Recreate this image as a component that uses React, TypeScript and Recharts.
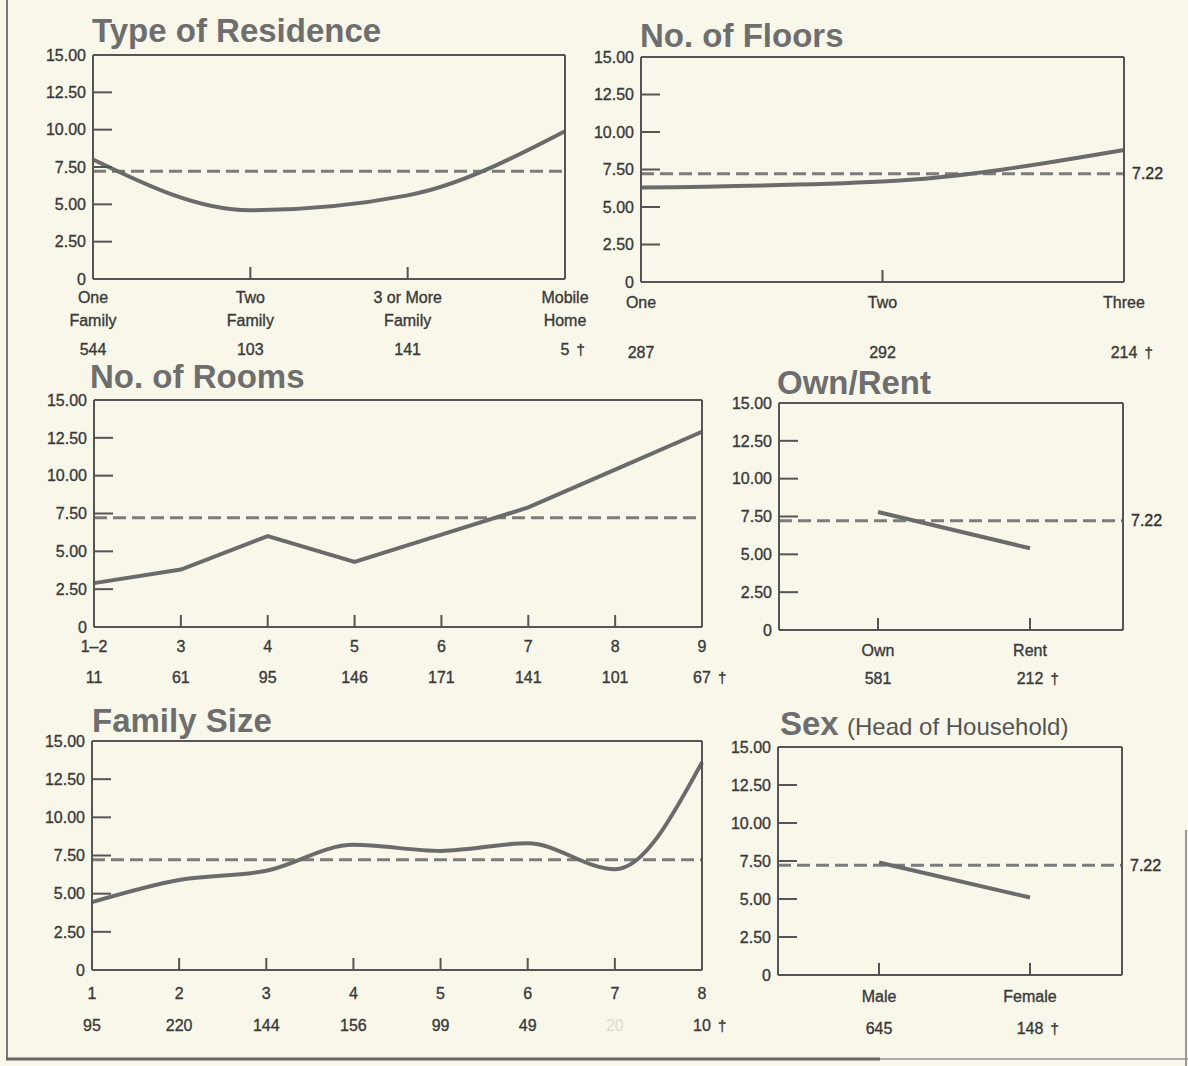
import React from "react";
import { LineChart, Line, XAxis, YAxis, ReferenceLine } from "recharts";

// ---------- data ----------
const overallMean = 7.22;
const yTicks = [0, 2.5, 5, 7.5, 10, 12.5, 15];

const residenceCategories = ["One\nFamily", "Two\nFamily", "3 or More\nFamily", "Mobile\nHome"];
const residenceValues = [8.0, 4.6, 5.6, 9.9];
const residenceCounts = [544, 103, 141, 5];

const floorsCategories = ["One", "Two", "Three"];
const floorsValues = [6.3, 6.7, 8.8];
const floorsCounts = [287, 292, 214];

const roomsCategories = ["1–2", "3", "4", "5", "6", "7", "8", "9"];
const roomsValues = [2.9, 3.8, 6.0, 4.3, 6.1, 7.9, 10.4, 12.9];
const roomsCounts = [11, 61, 95, 146, 171, 141, 101, 67];

const tenureCategories = ["Own", "Rent"];
const tenureValues = [7.8, 5.4];
const tenureCounts = [581, 212];

const familyCategories = ["1", "2", "3", "4", "5", "6", "7", "8"];
const familyValues = [4.45, 5.9, 6.5, 8.2, 7.8, 8.3, 6.6, 13.6];
const familyCounts = [95, 220, 144, 156, 99, 49, 20, 10];

const sexCategories = ["Male", "Female"];
const sexValues = [7.4, 5.1];
const sexCounts = [645, 148];

// ---------- styles ----------
const BG = "#f8f7e9";
const INK = "#3a3a3a";
const FRAME = "#555";
const LINE = "#6b6b6b";
const DASH = "#7c7c7c";
const TITLE = "#6e6e6e";
const FONT = "'Liberation Sans', Arial, sans-serif";

const YW = 70;
const MT = 16;
const XH = 90;
const RW = 2;
const MR = 60;

type Box = { l: number; t: number; r: number; b: number };

type PanelProps = {
  box: Box;
  categories: string[];
  values: number[];
  counts: number[];
  curve: "monotone" | "linear";
  padding?: { left: number; right: number };
  labelDy: number;
  countDy: number;
  showMeanLabel?: boolean;
  faintCount?: number;
};

const textInk = { fill: INK, stroke: INK, strokeWidth: 0.35, fontSize: 16, fontFamily: FONT };

function Panel(p: PanelProps) {
  const { box } = p;
  const w = YW + (box.r - box.l) + RW + MR;
  const h = MT + (box.b - box.t) + XH;
  const data = p.categories.map((c, i) => ({ cat: c, value: p.values[i] }));

  const renderTick = (props: any) => {
    const { x, y, payload } = props;
    const i = typeof props.index === "number" ? props.index : p.categories.indexOf(payload.value);
    const lines = String(payload.value).split("\n");
    const isLast = i === p.categories.length - 1;
    const cnt = String(p.counts[i]);
    const faint = p.faintCount === i;
    return (
      <g>
        <text x={x} y={y + p.labelDy} textAnchor="middle" {...textInk}>
          {lines.map((ln, k) => (
            <tspan key={k} x={x} dy={k === 0 ? 0 : 23}>
              {ln}
            </tspan>
          ))}
        </text>
        <text
          x={x}
          y={y + p.countDy}
          textAnchor="middle"
          {...textInk}
          fill={faint ? "#dedcc8" : INK}
          stroke={faint ? "none" : INK}
        >
          {cnt}
        </text>
        {isLast && (
          <text x={x + cnt.length * 4.5 + 7} y={y + p.countDy} textAnchor="start" {...textInk} fontSize={15}>
            †
          </text>
        )}
      </g>
    );
  };

  return (
    <div style={{ position: "absolute", left: box.l - YW, top: box.t - MT, width: w, height: h }}>
      <LineChart width={w} height={h} data={data} margin={{ top: MT, right: MR, bottom: 0, left: 0 }}>
        <XAxis
          dataKey="cat"
          height={XH}
          interval={0}
          padding={p.padding ?? { left: 0, right: 0 }}
          axisLine={{ stroke: FRAME, strokeWidth: 2 }}
          tickLine={{ stroke: FRAME, strokeWidth: 2 }}
          tickSize={-12}
          tickMargin={12}
          tick={renderTick}
        />
        <YAxis
          yAxisId="l"
          width={YW}
          domain={[0, 15]}
          ticks={yTicks}
          interval={0}
          axisLine={{ stroke: FRAME, strokeWidth: 2 }}
          tickLine={{ stroke: FRAME, strokeWidth: 2 }}
          tickSize={-19}
          tickMargin={26}
          tick={textInk}
          tickFormatter={(v: number) => (v === 0 ? "0" : v.toFixed(2))}
        />
        <YAxis
          yAxisId="r"
          orientation="right"
          width={RW}
          domain={[0, 15]}
          ticks={yTicks}
          interval={0}
          axisLine={{ stroke: FRAME, strokeWidth: 2 }}
          tickLine={{ stroke: FRAME, strokeWidth: 2 }}
          tickSize={-19}
          tick={false}
        />
        <ReferenceLine yAxisId="l" y={15} stroke={FRAME} strokeWidth={2} />
        <ReferenceLine
          yAxisId="l"
          y={overallMean}
          stroke={DASH}
          strokeWidth={3}
          strokeDasharray="13 6"
          label={
            p.showMeanLabel
              ? {
                  value: overallMean.toFixed(2),
                  position: "right",
                  offset: 8,
                  fill: "#333",
                  stroke: "#333",
                  strokeWidth: 0.4,
                  fontSize: 16,
                  fontFamily: FONT,
                }
              : undefined
          }
        />
        <Line
          yAxisId="l"
          type={p.curve}
          dataKey="value"
          stroke={LINE}
          strokeWidth={4}
          dot={false}
          isAnimationActive={false}
        />
      </LineChart>
    </div>
  );
}

const titleStyle = { fill: TITLE, fontFamily: FONT, fontWeight: 700, fontSize: 33 } as const;

export default function App() {
  return (
    <div style={{ position: "absolute", left: 0, top: 0, width: 1188, height: 1066, background: BG, overflow: "hidden" }}>
      <svg width={1188} height={1066} style={{ position: "absolute", left: 0, top: 0 }}>
        <line x1={7} y1={0} x2={7} y2={1060} stroke="#777" strokeWidth={2} />
        <line x1={6} y1={1059} x2={880} y2={1059} stroke="#666" strokeWidth={3} />
        <line x1={880} y1={1059} x2={1188} y2={1059} stroke="#aaa" strokeWidth={2} />
        <line x1={1186} y1={830} x2={1186} y2={1066} stroke="#999" strokeWidth={2} />
        <text x={92} y={42} style={titleStyle}>Type of Residence</text>
        <text x={640} y={47} style={titleStyle}>No. of Floors</text>
        <text x={90} y={388} style={titleStyle}>No. of Rooms</text>
        <text x={777} y={394} style={titleStyle}>Own/Rent</text>
        <text x={92} y={732} style={titleStyle}>Family Size</text>
        <text x={780} y={735} fontFamily={FONT} fill={TITLE}>
          <tspan fontWeight={700} fontSize={33}>Sex</tspan>
          <tspan x={847} fontSize={24} fill="#555">(Head of Household)</tspan>
        </text>
      </svg>

      <Panel
        box={{ l: 93, t: 55, r: 565, b: 279 }}
        categories={residenceCategories}
        values={residenceValues}
        counts={residenceCounts}
        curve="monotone"
        labelDy={24}
        countDy={76}
      />
      <Panel
        box={{ l: 641, t: 57, r: 1124, b: 282 }}
        categories={floorsCategories}
        values={floorsValues}
        counts={floorsCounts}
        curve="monotone"
        labelDy={26}
        countDy={76}
        showMeanLabel
      />
      <Panel
        box={{ l: 94, t: 400, r: 702, b: 627 }}
        categories={roomsCategories}
        values={roomsValues}
        counts={roomsCounts}
        curve="linear"
        labelDy={25}
        countDy={56}
      />
      <Panel
        box={{ l: 779, t: 403, r: 1123, b: 630 }}
        categories={tenureCategories}
        values={tenureValues}
        counts={tenureCounts}
        curve="linear"
        padding={{ left: 99, right: 93 }}
        labelDy={26}
        countDy={54}
        showMeanLabel
      />
      <Panel
        box={{ l: 92, t: 741, r: 702, b: 970 }}
        categories={familyCategories}
        values={familyValues}
        counts={familyCounts}
        curve="monotone"
        labelDy={29}
        countDy={61}
        faintCount={6}
      />
      <Panel
        box={{ l: 778, t: 747, r: 1122, b: 975 }}
        categories={sexCategories}
        values={sexValues}
        counts={sexCounts}
        curve="linear"
        padding={{ left: 101, right: 92 }}
        labelDy={27}
        countDy={59}
        showMeanLabel
      />
    </div>
  );
}
